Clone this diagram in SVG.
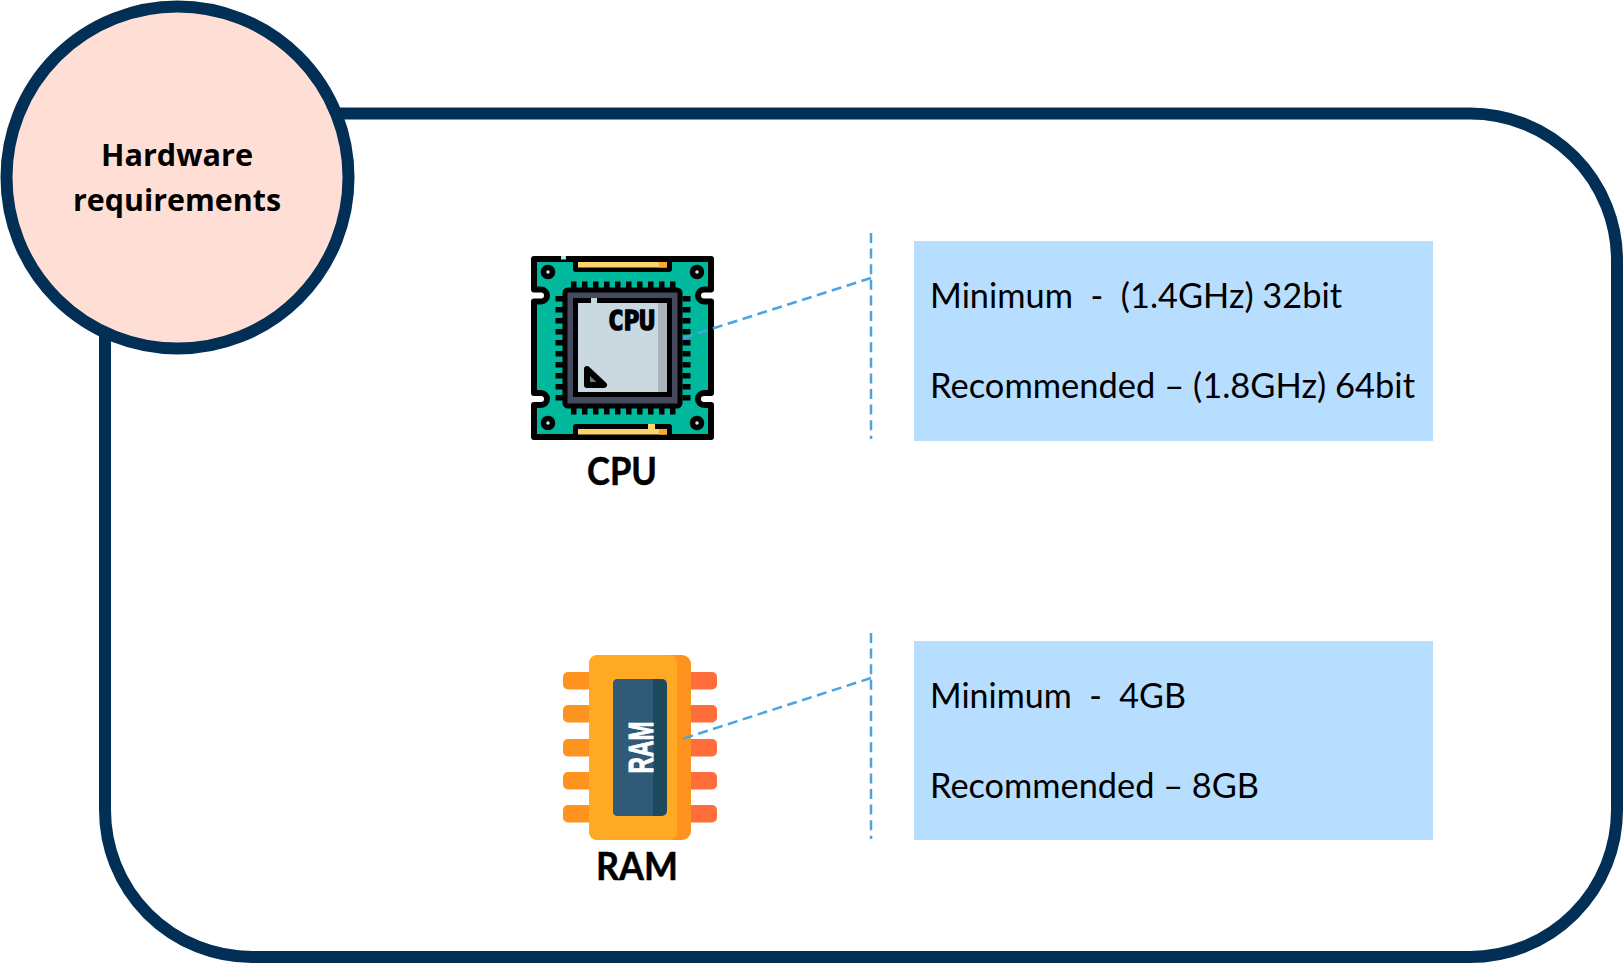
<svg xmlns="http://www.w3.org/2000/svg" width="1623" height="964" viewBox="0 0 1623 964">
<style>
.t{font-family:"Lato","Liberation Sans",sans-serif;font-size:34.500px;fill:#000;white-space:pre}
.lb{font-family:"Lato","Liberation Sans",sans-serif;font-weight:700;font-size:38px;fill:#000;stroke:#000;stroke-width:.5}
.hd{font-family:"Open Sans","Liberation Sans",sans-serif;font-weight:700;font-size:31px;fill:#000}
.dash{fill:none;stroke:#4ba3e3;stroke-width:2.500;stroke-dasharray:10 5.600}
.box{fill:#b7deff}
.pinL{fill:#ff9320}.pinR{fill:#ff6d3a}
.k{stroke:#000;stroke-linejoin:round;stroke-linecap:round}
</style>
<g id="frame"><rect x="105" y="113.500" width="1512" height="843.500" rx="147" ry="147" fill="#fff" stroke="#012f55" stroke-width="12"/></g>
<g id="title"><circle cx="177.500" cy="177.500" r="171" fill="#ffdfd5" stroke="#012f55" stroke-width="12"/>
<text class="hd" x="101" y="166" textLength="152" lengthAdjust="spacingAndGlyphs">Hardware</text>
<text class="hd" x="73" y="211" textLength="208" lengthAdjust="spacingAndGlyphs">requirements</text></g>
<g id="cpu">
<path class="k" d="M534 259H711V289.500H704A6 6 0 0 0 704 301.500H711V393H704A6 6 0 0 0 704 405H711V437H534V405H541A6 6 0 0 0 541 393H534V301.500H541A6 6 0 0 0 541 289.500H534Z" fill="#00b89c" stroke-width="6"/>
<rect x="573" y="256" width="99" height="16" fill="#000" rx="3"/><rect x="573" y="424" width="99" height="16" fill="#000" rx="3"/>
<rect x="578" y="262" width="89" height="5.500" fill="#fdd46c"/><rect x="659" y="262" width="8" height="5.500" fill="#f9a92f"/>
<rect x="578" y="429" width="89" height="5.500" fill="#fdd46c"/><rect x="659" y="429" width="8" height="5.500" fill="#f9a92f"/>
<rect x="648" y="424" width="7" height="5" fill="#fdd46c"/>
<rect x="561" y="256" width="5" height="3.500" fill="#bfe6ee"/>
<g stroke="#000" stroke-width="8" stroke-dasharray="5.500 5.500" fill="none">
<path d="M571 285.500H677M571 410.500H677M559.500 296V402M686.500 296V402"/></g>
<g fill="#cfe6f5" stroke="#000" stroke-width="5.500"><circle cx="548" cy="272" r="4.500"/><circle cx="697" cy="272" r="4.500"/><circle cx="548" cy="423" r="4.500"/><circle cx="697" cy="423" r="4.500"/></g>
<rect x="565" y="290" width="115" height="116" rx="3" fill="#464a5e" stroke="#000" stroke-width="5"/>
<rect x="575.500" y="300.500" width="94" height="94" fill="#cad8e0" stroke="#000" stroke-width="5"/>
<rect x="658" y="303" width="9" height="89" fill="#a9b5ba"/>
<rect x="591" y="298" width="6" height="5" fill="#cad8e0"/>
<text x="608" y="330" font-family="DejaVu Sans Mono,monospace" font-weight="700" font-size="27" textLength="47" lengthAdjust="spacingAndGlyphs" stroke="#000" stroke-width="1.500">CPU</text>
<path class="k" d="M587 369L604 385H587Z" fill="#6f7a80" stroke-width="6"/>
<text class="lb" x="587" y="485" textLength="70" lengthAdjust="spacingAndGlyphs">CPU</text>
</g>
<g id="ram">
<g class="pinL"><rect x="563" y="672" width="30" height="17.500" rx="5"/><rect x="563" y="705" width="30" height="17.500" rx="5"/><rect x="563" y="739" width="30" height="17.500" rx="5"/><rect x="563" y="772" width="30" height="17.500" rx="5"/><rect x="563" y="805" width="30" height="17.500" rx="5"/></g>
<g class="pinR"><rect x="687" y="672" width="30" height="17.500" rx="5"/><rect x="687" y="705" width="30" height="17.500" rx="5"/><rect x="687" y="739" width="30" height="17.500" rx="5"/><rect x="687" y="772" width="30" height="17.500" rx="5"/><rect x="687" y="805" width="30" height="17.500" rx="5"/></g>
<rect x="589" y="655" width="102" height="185" rx="9" fill="#ff9320"/>
<path d="M598 655H668Q677 655 677 664V831Q677 840 668 840H598Q589 840 589 831V664Q589 655 598 655Z" fill="#ffaa22"/>
<rect x="613" y="679" width="54" height="137" rx="5" fill="#1f4a5e"/>
<path d="M618 679H653V816H618Q613 816 613 811V684Q613 679 618 679Z" fill="#2f5b78"/>
<text transform="translate(652.500 773.500) rotate(-90)" font-family="Liberation Sans,sans-serif" font-weight="700" font-size="35" fill="#fff" stroke="#fff" stroke-width="1" textLength="52" lengthAdjust="spacingAndGlyphs">RAM</text>
<text class="lb" x="596" y="880" textLength="82" lengthAdjust="spacingAndGlyphs">RAM</text>
</g>
<g id="connectors">
<path class="dash" d="M871 233V439"/><path class="dash" d="M871 278L683 338"/>
<path class="dash" d="M871 633V839"/><path class="dash" d="M871 678L682 739"/>
</g>
<g id="cpu-spec"><rect class="box" x="914" y="241" width="519" height="200"/>
<text class="t" x="930" y="308" textLength="412" lengthAdjust="spacingAndGlyphs">Minimum  -  (1.4GHz) 32bit</text>
<text class="t" x="930" y="398" textLength="485" lengthAdjust="spacingAndGlyphs">Recommended – (1.8GHz) 64bit</text></g>
<g id="ram-spec"><rect class="box" x="914" y="641" width="519" height="199"/>
<text class="t" x="930" y="708" textLength="256" lengthAdjust="spacingAndGlyphs">Minimum  -  4GB</text>
<text class="t" x="930" y="798" textLength="329" lengthAdjust="spacingAndGlyphs">Recommended – 8GB</text></g>
</svg>
